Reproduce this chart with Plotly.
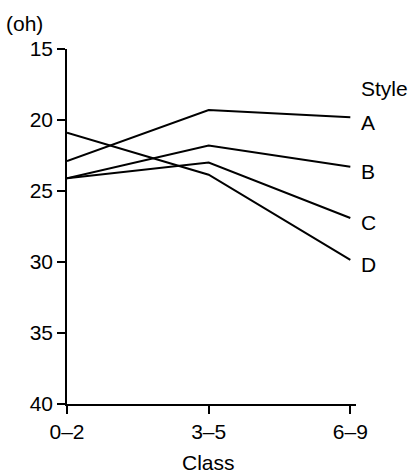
import plotly.graph_objects as go

classes = ["0–2", "3–5", "6–9"]
styles = ["A", "B", "C", "D"]
values = {
    "A": [22.9, 19.3, 19.8],
    "B": [24.1, 21.8, 23.3],
    "C": [24.1, 23.0, 26.9],
    "D": [20.9, 23.85, 29.85],
}
y_ticks = [15, 20, 25, 30, 35, 40]

FONT = "Liberation Sans, Arial, Helvetica, sans-serif"
FS = 21

fig = go.Figure()
for s in styles:
    fig.add_trace(go.Scatter(x=classes, y=values[s], mode="lines",
                             line=dict(color="black", width=2), showlegend=False,
                             hoverinfo="skip"))
    fig.add_annotation(x=classes[-1], y=values[s][-1], xref="x", yref="y",
                       text=s, showarrow=False, xanchor="left", yanchor="middle",
                       xshift=9, yshift=-5, font=dict(size=FS, color="black", family=FONT))

fig.add_annotation(x=classes[-1], y=17.8, xref="x", yref="y", text="Style",
                   showarrow=False, xanchor="left", yanchor="middle", xshift=9,
                   font=dict(size=FS, color="black", family=FONT))
fig.add_annotation(x=-0.217, y=1.073, xref="paper", yref="paper", text="(oh)",
                   showarrow=False, xanchor="left", yanchor="middle",
                   font=dict(size=FS, color="black", family=FONT))
fig.add_annotation(x=classes[1], y=-0.165, xref="x", yref="paper", text="Class",
                   showarrow=False, xanchor="center", yanchor="middle",
                   font=dict(size=FS, color="black", family=FONT))

fig.update_layout(
    width=420, height=473,
    margin=dict(l=67, r=64, t=49, b=69),
    plot_bgcolor="white", paper_bgcolor="white",
    font=dict(family=FONT, size=FS, color="black"),
    xaxis=dict(type="category", range=[0, 2.04], showgrid=False, zeroline=False,
               showline=True, linecolor="black", linewidth=1.5,
               ticks="outside", ticklen=8, tickwidth=1.5, tickcolor="black",
               tickfont=dict(size=FS, family=FONT, color="black")),
    yaxis=dict(range=[40, 15], tickvals=y_ticks, showgrid=False, zeroline=False,
               showline=True, linecolor="black", linewidth=1.5,
               ticks="outside", ticklen=8, tickwidth=1.5, tickcolor="black",
               tickfont=dict(size=FS, family=FONT, color="black")),
)

fig.write_html("out.html")
